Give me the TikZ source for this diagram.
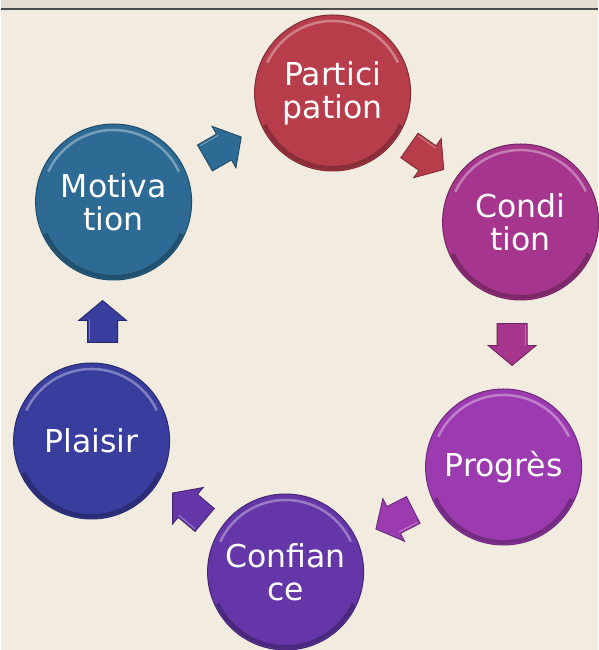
\documentclass[tikz,border=0pt]{standalone}
\usepackage{fontspec}
\setmainfont{DejaVu Sans}
\usepackage{xcolor}
\usepackage{tikz}
\usetikzlibrary{calc}
\definecolor{paper}{HTML}{F2EBE0}
\definecolor{strip}{HTML}{E3DDD2}
\definecolor{colMot}{HTML}{2D6B94}
\definecolor{colPar}{HTML}{B83D4B}
\definecolor{colCon}{HTML}{A6368D}
\definecolor{colPro}{HTML}{9C3BB0}
\definecolor{colCnf}{HTML}{6436A8}
\definecolor{colPla}{HTML}{393D9E}
\tikzset{
  bubble/.style={circle, minimum size=156pt, inner sep=0pt, fill=#1,
                 draw=#1!70!black, line width=1pt, text=white, align=center,
                 font=\fontsize{31.5}{33}\selectfont,
                 path picture={
                   \draw[white, opacity=.35, line width=2.5pt]
                     (path picture bounding box.center) ++(25:72pt)
                     arc[start angle=25, end angle=155, radius=72pt];
                   \draw[black, opacity=.25, line width=4pt]
                     (path picture bounding box.center) ++(205:75pt)
                     arc[start angle=205, end angle=335, radius=75pt];}},
  flow/.pic={
    \filldraw[line width=.8pt, line join=miter]
      (-21,-15) -- (1,-15) -- (1,-24) -- (21,0) -- (1,24) -- (1,15)
      -- (-21,15) -- cycle;
    \draw[white, opacity=.3, line width=1.2pt] (-19,13) -- (2,13);}
}

\begin{document}
\begin{tikzpicture}[x=1pt, y=1pt]
  % page and top strip
  \fill[paper] (0,0) rectangle (597,650);
  \fill[strip] (0,641) rectangle (597,650);
  \draw[gray!60!black, line width=1.2pt] (0,641) -- (597,641);
  \useasboundingbox (0,0) rectangle (597,650);

  \node[bubble=colMot] (mot) at (113,448) {Motiva\\tion};
  \node[bubble=colPar] (par) at (332,557) {Partici\\pation};
  \node[bubble=colCon] (con) at (520,428) {Condi\\tion};
  \node[bubble=colPro] (pro) at (503,183) {Progrès};
  \node[bubble=colCnf] (cnf) at (285,78)  {Confian\\ce};
  \node[bubble=colPla] (pla) at (91,209)  {Plaisir};

  % block arrows between the bubbles
  \foreach \a/\b/\c/\r in {mot/par/colMot/30, par/con/colPar/-35,
                           con/pro/colCon/-90, pro/cnf/colPro/207,
                           cnf/pla/colCnf/140, pla/mot/colPla/90}
    \path ($(\a)!0.5!(\b)$) pic[rotate=\r, fill=\c, draw=\c!65!black] {flow};
\end{tikzpicture}
\end{document}
